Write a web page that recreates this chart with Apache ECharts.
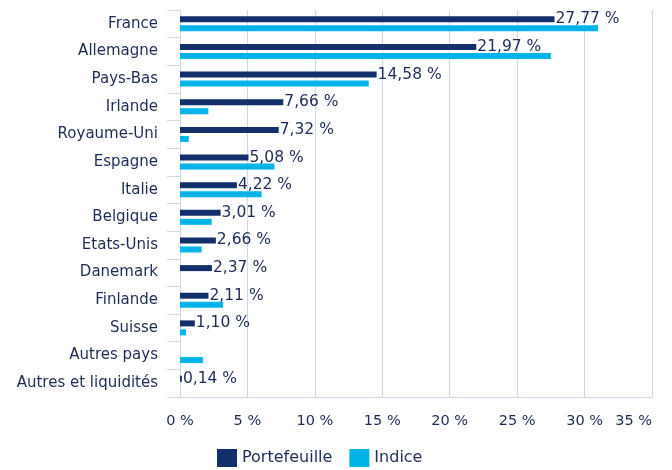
<!DOCTYPE html>
<html>
<head>
<meta charset="utf-8">
<script src="https://cdn.jsdelivr.net/npm/echarts@6/dist/echarts.min.js"></script>
<style>
  html, body { margin: 0; padding: 0; background: #fff; }
  #chart { width: 672px; height: 470px; }
</style>
</head>
<body>
<div id="chart"></div>
<script>
// répartition par pays
const categories = ['France', 'Allemagne', 'Pays-Bas', 'Irlande', 'Royaume-Uni', 'Espagne', 'Italie',
  'Belgique', 'Etats-Unis', 'Danemark', 'Finlande', 'Suisse', 'Autres pays', 'Autres et liquidités'];
const portefeuille = [27.77, 21.97, 14.58, 7.66, 7.32, 5.08, 4.22, 3.01, 2.66, 2.37, 2.11, 1.10, null, 0.14];
const indice = [31.0, 27.5, 14.0, 2.1, 0.65, 7.0, 6.05, 2.35, 1.6, null, 3.2, 0.45, 1.7, null];
const xTicks = [0, 5, 10, 15, 20, 25, 30, 35];

const navy = '#14306b';
const cyan = '#00b4ea';
const txt = '#1d2b57';
const grid = '#cdd8e8';

const pct = v => v.toFixed(2).replace('.', ',') + ' %';

var chart = echarts.init(document.getElementById('chart'));
var option = {
  animation: false,
  textStyle: { fontFamily: 'DejaVu Sans' },
  grid: { left: 180, right: 20, top: 10, bottom: 73, containLabel: false },
  legend: {
    top: 444,
    left: 212,
    itemWidth: 20,
    itemHeight: 18,
    itemGap: 17,
    icon: 'rect',
    textStyle: { color: txt, fontSize: 16, fontFamily: 'DejaVu Sans' },
    data: ['Portefeuille', 'Indice']
  },
  xAxis: {
    type: 'value',
    min: xTicks[0],
    max: xTicks[xTicks.length - 1],
    interval: 5,
    axisLine: { show: true, lineStyle: { color: grid } },
    axisTick: { show: false },
    splitLine: { show: true, lineStyle: { color: grid, width: 1 } },
    axisLabel: {
      color: txt,
      fontSize: 14.5,
      margin: 17,
      alignMaxLabel: 'right',
      formatter: v => v + ' %'
    }
  },
  yAxis: {
    type: 'category',
    inverse: true,
    data: categories,
    axisLine: { show: true, lineStyle: { color: grid } },
    axisTick: { show: true, length: 13, lineStyle: { color: grid } },
    axisLabel: { color: txt, fontSize: 15, margin: 22 }
  },
  series: [
    {
      name: 'Portefeuille',
      type: 'bar',
      data: portefeuille,
      barWidth: 6,
      barGap: '50%',
      itemStyle: { color: navy },
      label: {
        show: true,
        position: 'right',
        distance: 1,
        color: txt,
        fontSize: 15.5,
        formatter: p => p.value == null ? '' : pct(p.value)
      }
    },
    {
      name: 'Indice',
      type: 'bar',
      data: indice,
      barWidth: 6,
      barGap: '50%',
      itemStyle: { color: cyan }
    }
  ]
};
chart.setOption(option);
</script>
</body>
</html>
